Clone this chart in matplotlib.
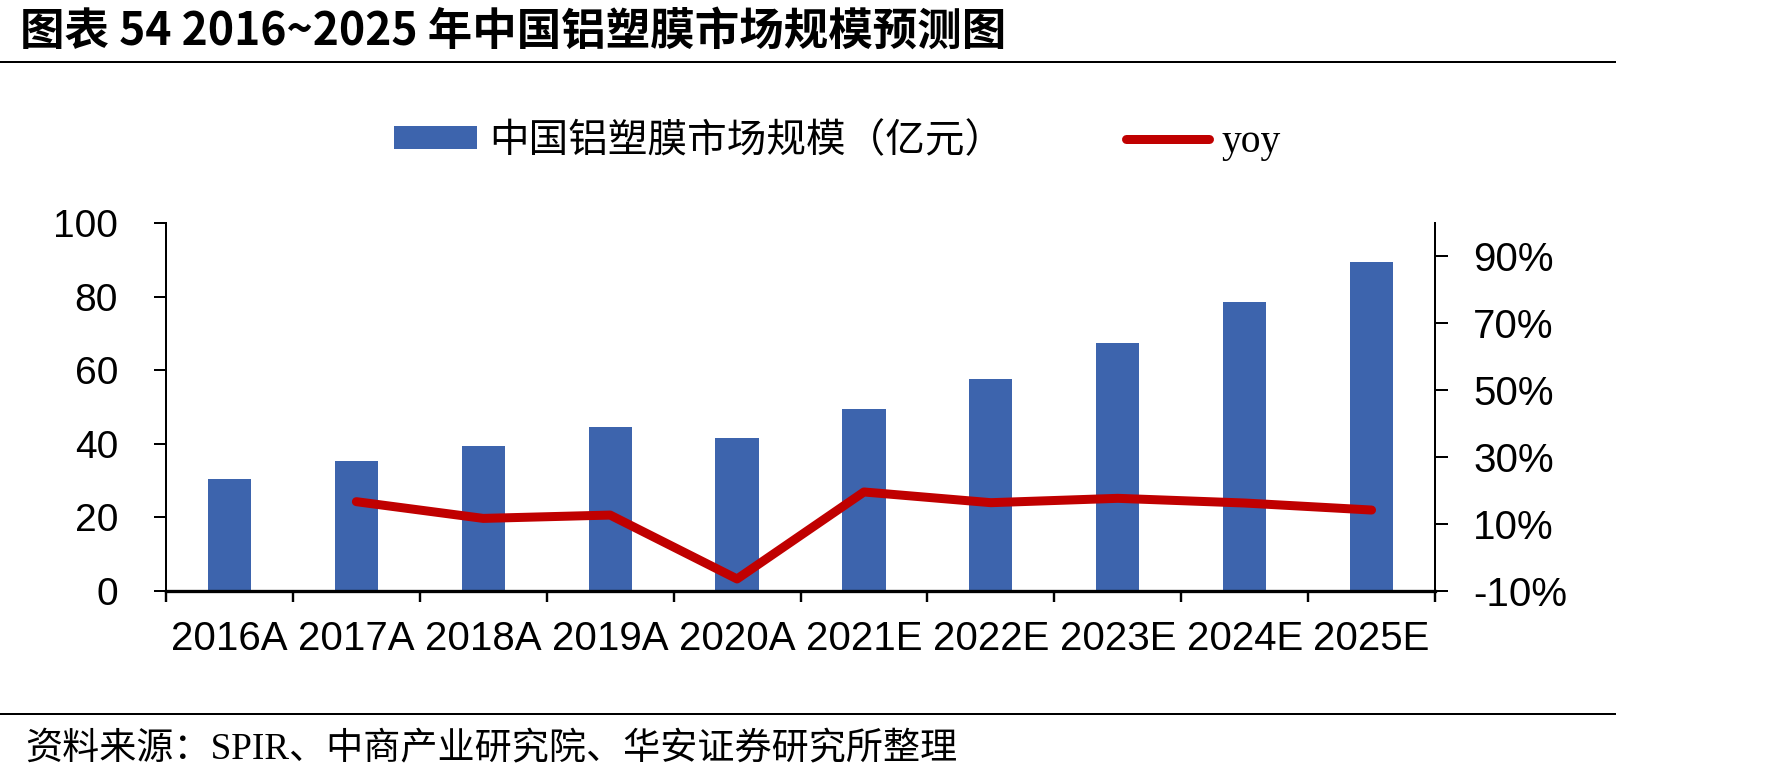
import matplotlib
matplotlib.use("Agg")
import matplotlib.pyplot as plt
import numpy as np
from matplotlib.lines import Line2D

# values
years = ["2016A", "2017A", "2018A", "2019A", "2020A",
         "2021E", "2022E", "2023E", "2024E", "2025E"]
market_size = [30.4, 35.3, 39.4, 44.5, 41.6, 49.4, 57.6, 67.3, 78.5, 89.3]
yoy_pct = [np.nan, 16.7, 11.7, 12.7, -6.4, 19.6, 16.4, 17.7, 16.3, 14.2]
left_ticks = [0, 20, 40, 60, 80, 100]
right_ticks = [-10, 10, 30, 50, 70, 90]

title = "图表 54 2016~2025 年中国铝塑膜市场规模预测图"
bar_label = "中国铝塑膜市场规模（亿元）"
line_label = "yoy"
source = "资料来源：SPIR、中商产业研究院、华安证券研究所整理"

BLUE = "#3d64ad"
RED = "#c00000"
W, H = 1769, 781
PX = 72 / 100  # points per pixel at dpi 100
SANS = ["Liberation Sans", "DejaVu Sans"]
SERIF_CJK = ["Liberation Serif", "Noto Sans CJK SC", "DejaVu Sans"]

fig = plt.figure(figsize=(W / 100, H / 100), dpi=100)
ax = fig.add_axes([166 / W, 1 - 591 / H, (1435 - 166) / W, (591 - 223) / H])
x = np.arange(len(years))

bars = ax.bar(x, market_size, width=0.34, color=BLUE, zorder=2)
ax.set_xlim(-0.5, len(years) - 0.5)
ax.set_ylim(0, 100)
ax.set_yticks(left_ticks)
ax.set_yticklabels([str(t) for t in left_ticks], family=SANS, fontsize=28)
ax.tick_params(axis="y", direction="out", length=12 * PX, width=2 * PX,
               pad=36 * PX)

# category separators as major ticks, labels on minor ticks
ax.set_xticks(np.arange(-0.5, len(years)), labels=[])
ax.set_xticks(x, labels=years, minor=True)
ax.tick_params(axis="x", which="major", direction="out", length=11 * PX,
               width=2.4 * PX)
ax.tick_params(axis="x", which="minor", length=0, pad=29 * PX)
for lab in ax.get_xticklabels(minor=True):
    lab.set_family(SANS)
    lab.set_fontsize(29)

for side in ("top", "right"):
    ax.spines[side].set_visible(False)
ax.spines["left"].set_linewidth(2 * PX)
ax.spines["bottom"].set_linewidth(3.3 * PX)

ax2 = ax.twinx()
line, = ax2.plot(x, yoy_pct, color=RED, lw=9 * PX,
                 solid_capstyle="round", solid_joinstyle="round", zorder=3)
ax2.set_ylim(-10, 100)
ax2.set_yticks(right_ticks)
ax2.set_yticklabels([f"{t}%" for t in right_ticks], family=SANS, fontsize=29)
ax2.tick_params(axis="y", direction="out", length=13 * PX, width=2 * PX,
                pad=25 * PX)
for side in ("top", "bottom", "left"):
    ax2.spines[side].set_visible(False)
ax2.spines["right"].set_linewidth(2 * PX)

fig.legend([bars, line], [bar_label, line_label], loc="center left",
           bbox_to_anchor=(394 / W, 1 - 142 / H), ncol=2, frameon=False,
           borderpad=0, borderaxespad=0, handlelength=2.1, handleheight=0.53,
           handletextpad=0.3, columnspacing=3.08,
           prop={"family": SERIF_CJK, "size": 28.5})

fig.text(20 / W, 1 - 32 / H, title, va="center", ha="left", fontsize=32,
         weight="bold", family=["Noto Sans CJK SC", "DejaVu Sans"])
fig.text(25 / W, 1 - 749 / H, source, va="center", ha="left", fontsize=26.7,
         family=SERIF_CJK)

for y in (62, 714):
    fig.add_artist(Line2D([0, 1615 / W], [1 - y / H] * 2,
                          transform=fig.transFigure, color="black",
                          lw=2 * PX))

fig.savefig("out.png", dpi=100)
plt.close(fig)
